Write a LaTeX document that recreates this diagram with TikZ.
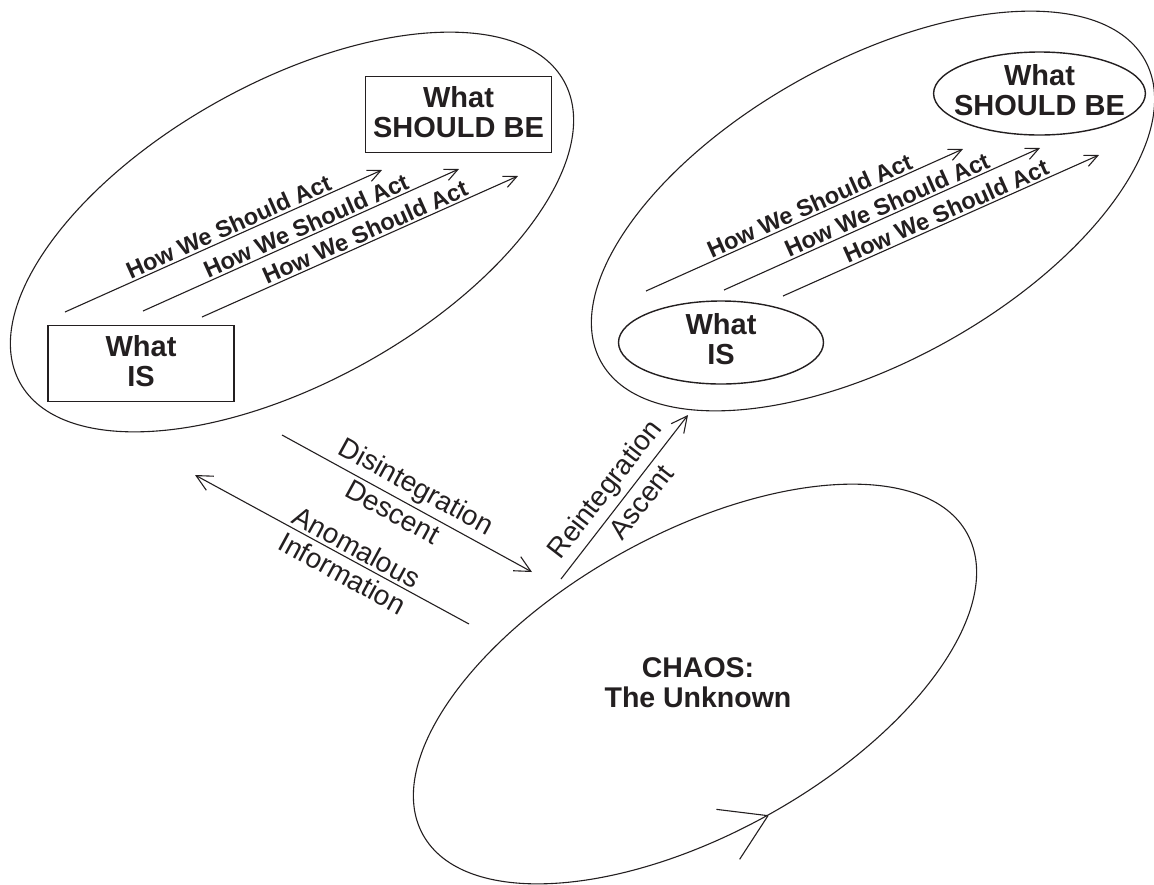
\documentclass[tikz,border=0pt]{standalone}
\usepackage{fontspec}
\setmainfont{Liberation Sans}
\usetikzlibrary{arrows.meta,shapes.geometric}
\definecolor{ink}{HTML}{231F20}
\begin{document}
\begin{tikzpicture}[x=1pt,y=-1pt,color=ink,line width=1.1pt,
  big/.style={draw, ellipse, minimum width=622pt, minimum height=300pt, inner sep=0pt, rotate=29},
  goal/.style={draw, align=center, font=\fontsize{29}{30}\selectfont\bfseries, minimum width=186pt, minimum height=76pt, inner sep=0pt, text depth=5pt, line width=1.4pt},
  goalell/.style={goal, ellipse, minimum width=205pt, minimum height=83pt, inner xsep=-10.5pt, text depth=7pt},
  act/.style={-{Straight Barb[length=13pt,width=12pt]}},
  actlabel/.style={sloped, above, pos=0.53, inner sep=2pt, font=\fontsize{23.5}{27}\selectfont\bfseries},
  move/.style={-{Straight Barb[length=16pt,width=16pt]}},
  moveback/.style={{Straight Barb[length=16pt,width=16pt]}-},
  movelabel/.style={sloped, font=\fontsize{28}{30}\selectfont},
  chaostext/.style={align=center, font=\fontsize{28.5}{30}\selectfont\bfseries, inner sep=0pt}
]
\useasboundingbox (0,0) rectangle (1154,884);

% left group
\node[big] (L) at (292,232) {};
\node[goal] (isL) at (141,363.5) {What\\IS};
\node[goal] (sbL) at (458.5,114.5) {What\\SHOULD BE};
\coordinate (a1s) at (65,312);  \coordinate (a1e) at (382,170);
\coordinate (a2s) at (143,311); \coordinate (a2e) at (459,169);
\coordinate (a3s) at (202,317); \coordinate (a3e) at (518,176);
\draw[act] (a1s) -- (a1e) node[actlabel] {How We Should Act};
\draw[act] (a2s) -- (a2e) node[actlabel] {How We Should Act};
\draw[act] (a3s) -- (a3e) node[actlabel] {How We Should Act};

% right group
\node[big] (R) at (873,211) {};
\node[goalell] (isR) at (721,342.5) {What\\IS};
\node[goalell] (sbR) at (1039.5,93.5) {What\\SHOULD BE};
\coordinate (b1s) at (646,291); \coordinate (b1e) at (963,149);
\coordinate (b2s) at (724,290); \coordinate (b2e) at (1040,148);
\coordinate (b3s) at (783,296); \coordinate (b3e) at (1099,155);
\draw[act] (b1s) -- (b1e) node[actlabel] {How We Should Act};
\draw[act] (b2s) -- (b2e) node[actlabel] {How We Should Act};
\draw[act] (b3s) -- (b3e) node[actlabel] {How We Should Act};

% chaos
\node[big] (C) at (695,684) {};
\node[chaostext] (Ct) at (698,683) {CHAOS:\\The Unknown};
\draw (C.south) -- ++(173:52pt);
\draw (C.south) -- ++(237:52pt);

% transitions
\coordinate (ds) at (282,435); \coordinate (de) at (532,572);
\draw[move] (ds) -- (de)
  node[movelabel, pos=0.5, above, inner sep=4pt] {Disintegration}
  node[movelabel, pos=0.47, below, inner sep=4pt] {Descent};
\coordinate (at) at (195,475); \coordinate (ae) at (469,624);
\draw[moveback] (at) -- (ae)
  node[movelabel, pos=0.566, above, inner sep=3pt] {Anomalous}
  node[movelabel, pos=0.566, below, inner sep=5pt] {Information};
\coordinate (rs) at (561,579); \coordinate (re) at (688,415);
\draw[move] (rs) -- (re)
  node[movelabel, pos=0.47, above, inner sep=5pt] {Reintegration}
  node[movelabel, pos=0.53, below, inner sep=6pt] {Ascent};
\end{tikzpicture}
\end{document}
